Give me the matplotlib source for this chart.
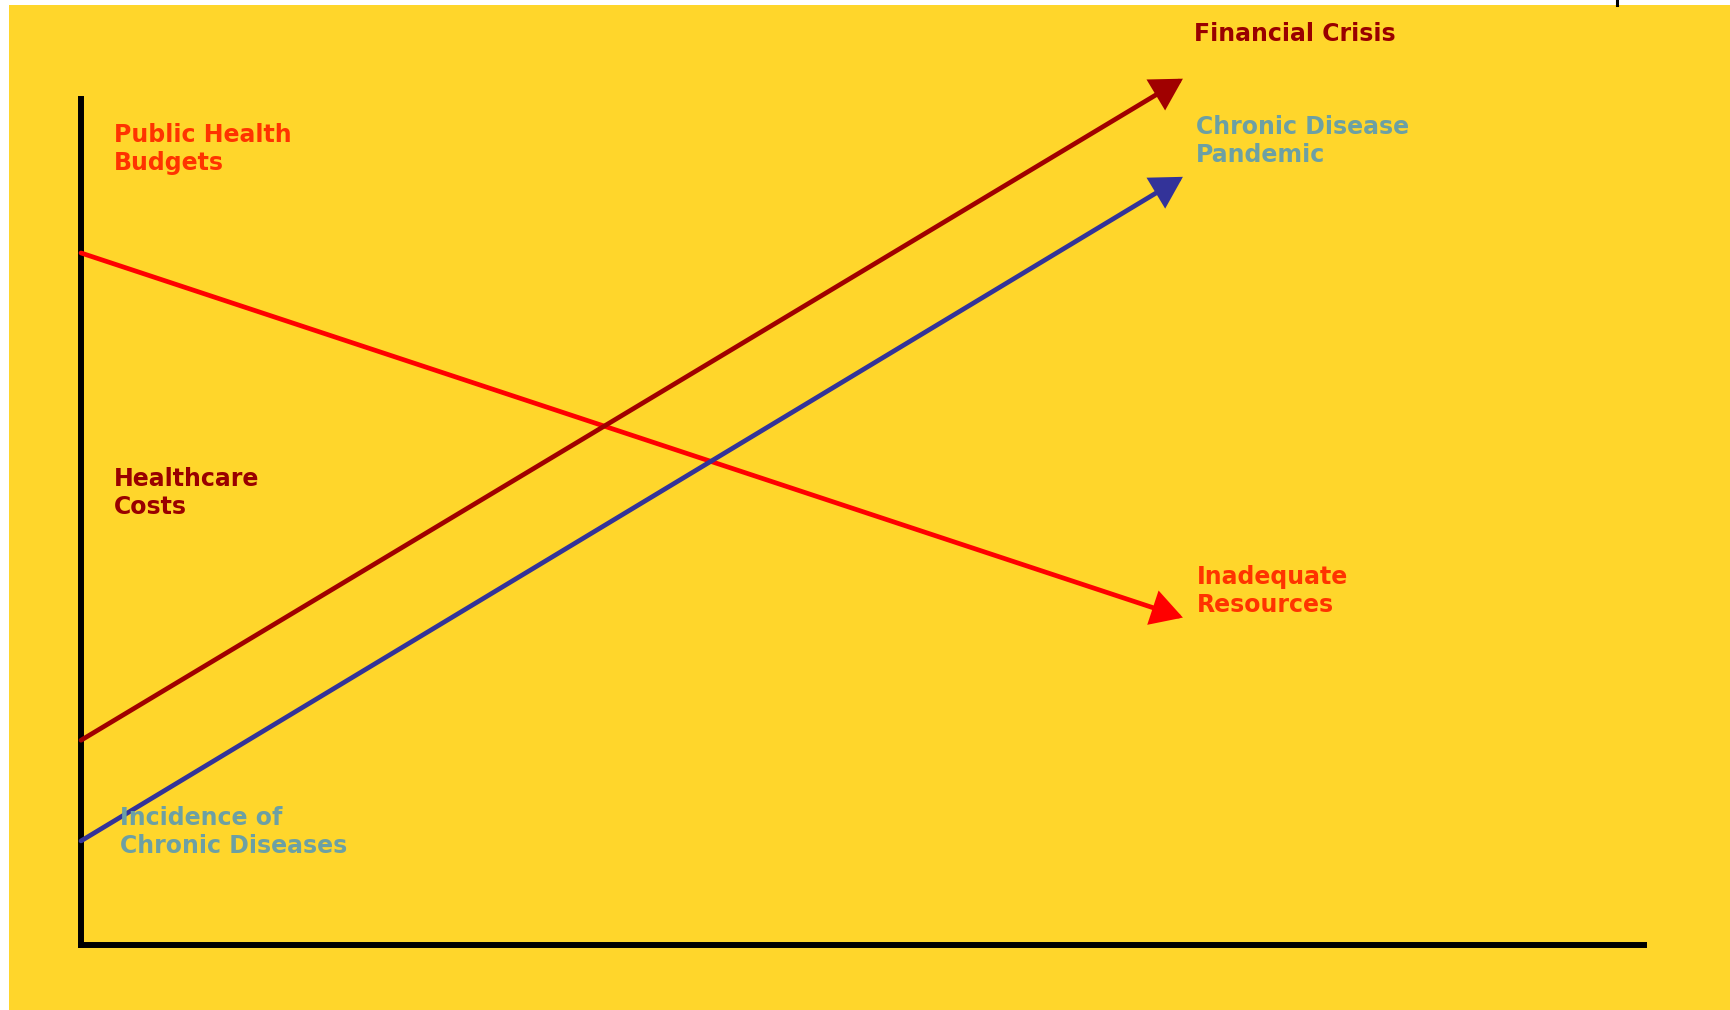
import matplotlib.pyplot as plt
from matplotlib.patches import Rectangle

# conceptual trend lines: value at start and at end of the period
x_start = 0.0
x_end = 7.05
budgets = [81.8, 38.7]        # public health budgets -> inadequate resources
costs = [24.2, 102.4]         # healthcare costs -> financial crisis
incidence = [12.3, 90.8]      # chronic diseases -> pandemic

YELLOW = '#FFD62B'
RED = '#FF0000'
DARKRED = '#A00000'
BLUE = '#333399'
ORANGE_TXT = '#FF3300'
DARKRED_TXT = '#990000'
TEAL_TXT = '#6CA0A4'

W, H = 1731, 1010
fig = plt.figure(figsize=(W / 100, H / 100), dpi=100, facecolor='white')
fig.patches.append(Rectangle((9 / W, 0), 1, 1 - 5 / H, transform=fig.transFigure,
                             facecolor=YELLOW, edgecolor='none', zorder=-5))
fig.add_artist(plt.Line2D([1617 / W, 1617 / W], [1 - 5 / H, 1], color='black', lw=2.2))

ax = fig.add_axes([81 / W, 1 - 945 / H, (1644 - 81) / W, (945 - 99) / H])
ax.set_zorder(2)
ax.set_facecolor('none')
ax.set_xlim(0, 10)
ax.set_ylim(0, 100)
for s in ['top', 'right']:
    ax.spines[s].set_visible(False)
for s in ['left', 'bottom']:
    ax.spines[s].set_linewidth(4.3)
    ax.spines[s].set_color('black')
ax.set_xticks([])
ax.set_yticks([])


def trend(vals, color):
    ax.annotate('', xy=(x_end, vals[1]), xytext=(x_start, vals[0]),
                annotation_clip=False,
                arrowprops=dict(arrowstyle='-|>,head_length=0.42,head_width=0.24',
                                color=color, lw=3.4, joinstyle='miter',
                                mutation_scale=42, shrinkA=0, shrinkB=0))


trend(budgets, RED)
trend(costs, DARKRED)
trend(incidence, BLUE)


def label(px, py, txt, color):
    # py is the baseline of the last line
    fig.text(px / W, 1 - py / H, txt, color=color, fontsize=17, fontweight='bold',
             family='DejaVu Sans', va='baseline', ha='left', linespacing=1.2,
             zorder=5)


label(114, 170, 'Public Health\nBudgets', ORANGE_TXT)
label(114, 514, 'Healthcare\nCosts', DARKRED_TXT)
label(120, 853, 'Incidence of\nChronic Diseases', TEAL_TXT)
label(1194, 41, 'Financial Crisis', DARKRED_TXT)
label(1196, 162, 'Chronic Disease\nPandemic', TEAL_TXT)
label(1197, 612, 'Inadequate\nResources', ORANGE_TXT)

fig.savefig('out.png', dpi=100, facecolor='white')
